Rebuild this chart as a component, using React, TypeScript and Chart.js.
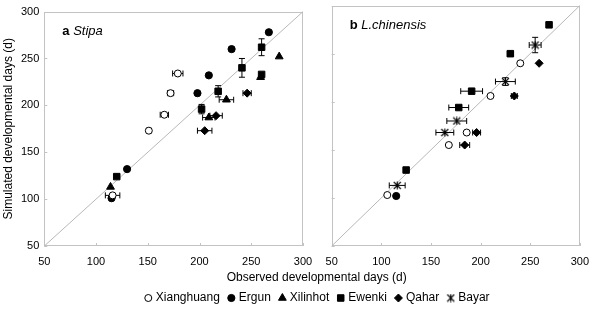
import React, { useEffect, useRef } from 'react';
import { Chart, registerables } from 'chart.js';
import { drawPoint } from 'chart.js/helpers';

Chart.register(...registerables);

// ---------- axis definition ----------
const AXIS_MIN = 50;
const AXIS_MAX = 300;
const AXIS_STEP = 50;
const X_TITLE = 'Observed developmental days (d)';
const Y_TITLE = 'Simulated developmental days (d)';
const seriesNames = ['Xianghuang', 'Ergun', 'Xilinhot', 'Ewenki', 'Qahar', 'Bayar'];

// ---------- panel a (Stipa) ----------
const xianghuangA_obs = [179, 172, 166, 151, 116];
const xianghuangA_sim = [234, 213, 190, 173, 104];
const xianghuangA_xErr = [5, 3, 4, 2, 7];
const xianghuangA_yErr = [0, 0, 0, 0, 0];

const ergunA_obs = [267, 231, 209, 198, 130, 115];
const ergunA_sim = [278, 260, 232, 213, 132, 101];
const ergunA_xErr = [0, 0, 0, 0, 0, 0];
const ergunA_yErr = [0, 2, 0, 0, 0, 0];

const xilinhotA_obs = [277, 259, 226, 209, 114];
const xilinhotA_sim = [252, 230, 206, 187, 113];
const xilinhotA_xErr = [0, 0, 7, 6, 0];
const xilinhotA_yErr = [0, 0, 0, 0, 0];

const ewenkiA_obs = [260, 241, 218, 202, 120, 260];
const ewenkiA_sim = [262, 240, 215, 196, 124, 233];
const ewenkiA_xErr = [0, 0, 0, 0, 0, 0];
const ewenkiA_yErr = [9, 10, 6, 5, 0, 0];

const qaharA_obs = [246, 216, 205];
const qaharA_sim = [213, 189, 173];
const qaharA_xErr = [4, 6, 7];
const qaharA_yErr = [0, 0, 0];

// ---------- panel b (L.chinensis) ----------
const xianghuangB_obs = [240, 210, 186, 168, 106];
const xianghuangB_sim = [240, 206, 168, 155, 103];
const xianghuangB_xErr = [0, 0, 0, 0, 0];
const xianghuangB_yErr = [0, 0, 0, 0, 0];

const ergunB_obs = [115];
const ergunB_sim = [102];
const ergunB_xErr = [0];
const ergunB_yErr = [0];

const ewenkiB_obs = [269, 230, 191, 178, 125];
const ewenkiB_sim = [280, 250, 211, 194, 129];
const ewenkiB_xErr = [0, 3, 11, 10, 0];
const ewenkiB_yErr = [0, 2, 0, 0, 0];

const qaharB_obs = [259, 234, 196, 184];
const qaharB_sim = [240, 206, 168, 155];
const qaharB_xErr = [0, 3, 4, 5];
const qaharB_yErr = [0, 0, 0, 0];

const bayarB_obs = [255, 225, 176, 164, 116];
const bayarB_sim = [259, 221, 180, 168, 113];
const bayarB_xErr = [6, 10, 10, 9, 8];
const bayarB_yErr = [8, 4, 0, 0, 0];

// ---------- styles ----------
function makeBayarMarker(): HTMLCanvasElement {
  const c = document.createElement('canvas');
  c.width = 9;
  c.height = 9;
  const g = c.getContext('2d')!;
  g.strokeStyle = '#000';
  g.lineWidth = 1.1;
  g.beginPath();
  g.moveTo(1, 1); g.lineTo(8, 8);
  g.moveTo(8, 1); g.lineTo(1, 8);
  g.moveTo(4.5, 0.5); g.lineTo(4.5, 8.5);
  g.stroke();
  return c;
}

type Style = { pointStyle: any; radius: number; fill: string };
function getStyles(): Record<string, Style> {
  return {
    Xianghuang: { pointStyle: 'circle', radius: 3.5, fill: '#ffffff' },
    Ergun: { pointStyle: 'circle', radius: 3.6, fill: '#000000' },
    Xilinhot: { pointStyle: 'triangle', radius: 4.5, fill: '#000000' },
    Ewenki: { pointStyle: 'rect', radius: 4.6, fill: '#000000' },
    Qahar: { pointStyle: 'rectRot', radius: 4, fill: '#000000' },
    Bayar: { pointStyle: makeBayarMarker(), radius: 4.5, fill: '#000000' },
  };
}

function buildDataset(name: string, obs: number[], sim: number[], xErr: number[], yErr: number[], styles: Record<string, Style>) {
  const s = styles[name];
  return {
    label: name,
    data: obs.map((v, i) => ({ x: v, y: sim[i] })),
    xErr,
    yErr,
    pointStyle: s.pointStyle,
    pointRadius: s.radius,
    pointBackgroundColor: s.fill,
    pointBorderColor: '#000000',
    pointBorderWidth: 1,
    showLine: false,
  } as any;
}

const FONT = "'Liberation Sans', Arial, Helvetica, sans-serif";

const framePlugin = {
  id: 'frame',
  beforeDatasetsDraw(chart: any) {
    const { ctx, chartArea: a } = chart;
    const xs = chart.scales.x;
    const ys = chart.scales.y;
    ctx.save();
    ctx.strokeStyle = '#c3c3c3';
    ctx.lineWidth = 1;
    ctx.strokeRect(Math.round(a.left) + 0.5, Math.round(a.top) + 0.5, Math.round(a.width) - 1, Math.round(a.height) - 1);
    ctx.beginPath();
    xs.ticks.forEach((t: any) => {
      const px = Math.round(xs.getPixelForValue(t.value)) + 0.5;
      ctx.moveTo(px, a.bottom);
      ctx.lineTo(px, a.bottom - 3);
    });
    ys.ticks.forEach((t: any) => {
      const py = Math.round(ys.getPixelForValue(t.value)) + 0.5;
      ctx.moveTo(a.left, py);
      ctx.lineTo(a.left + 3, py);
    });
    ctx.stroke();
    // 1:1 line
    ctx.strokeStyle = '#b8b8b8';
    ctx.beginPath();
    ctx.moveTo(xs.getPixelForValue(AXIS_MIN), ys.getPixelForValue(AXIS_MIN));
    ctx.lineTo(xs.getPixelForValue(AXIS_MAX), ys.getPixelForValue(AXIS_MAX));
    ctx.stroke();
    // error bars
    ctx.strokeStyle = '#000';
    ctx.lineWidth = 1;
    const cap = 3;
    chart.data.datasets.forEach((ds: any) => {
      ds.data.forEach((p: any, i: number) => {
        const px = xs.getPixelForValue(p.x);
        const py = ys.getPixelForValue(p.y);
        const xe = ds.xErr ? ds.xErr[i] : 0;
        const ye = ds.yErr ? ds.yErr[i] : 0;
        ctx.beginPath();
        if (xe > 0) {
          const l = xs.getPixelForValue(p.x - xe);
          const r = xs.getPixelForValue(p.x + xe);
          ctx.moveTo(l, py); ctx.lineTo(r, py);
          ctx.moveTo(l, py - cap); ctx.lineTo(l, py + cap);
          ctx.moveTo(r, py - cap); ctx.lineTo(r, py + cap);
        }
        if (ye > 0) {
          const t = ys.getPixelForValue(p.y + ye);
          const b = ys.getPixelForValue(p.y - ye);
          ctx.moveTo(px, t); ctx.lineTo(px, b);
          ctx.moveTo(px - cap, t); ctx.lineTo(px + cap, t);
          ctx.moveTo(px - cap, b); ctx.lineTo(px + cap, b);
        }
        ctx.stroke();
      });
    });
    ctx.restore();
  },
  afterDraw(chart: any) {
    const opts = chart.options.plugins.panelLabel;
    if (!opts) return;
    const { ctx, chartArea: a } = chart;
    ctx.save();
    ctx.fillStyle = '#000';
    ctx.textBaseline = 'middle';
    ctx.textAlign = 'left';
    const x0 = a.left + 18;
    const y0 = a.top + 20;
    ctx.font = `bold 13px ${FONT}`;
    ctx.fillText(opts.bold, x0, y0);
    const w = ctx.measureText(opts.bold + ' ').width;
    ctx.font = `italic 13px ${FONT}`;
    ctx.fillText(opts.italic, x0 + w, y0);
    ctx.restore();
  },
};

const footerPlugin = {
  id: 'footer',
  afterDraw(chart: any) {
    const opts = chart.options.plugins.footer;
    if (!opts) return;
    const { ctx } = chart;
    ctx.save();
    ctx.fillStyle = '#000';
    ctx.textBaseline = 'middle';
    ctx.font = `12px ${FONT}`;
    ctx.textAlign = 'center';
    ctx.fillText(opts.title, opts.cx, opts.titleY);
    // legend
    ctx.textAlign = 'left';
    const styles: Record<string, Style> = opts.styles;
    const markerW = 9;
    const gapMT = 3;
    const gapItem = 7;
    const widths = opts.names.map((n: string) => ctx.measureText(n).width);
    const total = widths.reduce((s: number, w: number) => s + w, 0) + opts.names.length * (markerW + gapMT) + (opts.names.length - 1) * gapItem;
    let x = opts.cx - total / 2;
    const y = opts.legendY;
    opts.names.forEach((n: string, i: number) => {
      const s = styles[n];
      ctx.fillStyle = s.fill;
      ctx.strokeStyle = '#000';
      ctx.lineWidth = 1;
      drawPoint(ctx, { pointStyle: s.pointStyle, radius: s.radius, borderWidth: 1, rotation: 0 } as any, x + markerW / 2, y);
      x += markerW + gapMT;
      ctx.fillStyle = '#000';
      ctx.fillText(n, x, y);
      x += widths[i] + gapItem;
    });
    ctx.restore();
  },
};

function axisOptions(showLabels: boolean, fixed: number, horizontal: boolean, title?: string) {
  return {
    type: 'linear',
    min: AXIS_MIN,
    max: AXIS_MAX,
    grid: { display: false, drawTicks: false },
    border: { display: false },
    ticks: {
      display: showLabels,
      stepSize: AXIS_STEP,
      color: '#000',
      font: { size: 11, family: FONT },
      padding: horizontal ? 9 : 5,
      maxRotation: 0,
    },
    title: title
      ? { display: true, text: title, color: '#000', font: { size: 12, family: FONT }, padding: { top: 1, bottom: 0 } }
      : { display: false },
    afterFit: (scale: any) => {
      if (horizontal) scale.height = fixed;
      else scale.width = fixed;
    },
  } as any;
}

export default function App() {
  const leftRef = useRef<HTMLCanvasElement>(null);
  const rightRef = useRef<HTMLCanvasElement>(null);

  useEffect(() => {
    document.body.style.margin = '0';
    const styles = getStyles();
    const left = new Chart(leftRef.current!, {
      type: 'scatter',
      data: {
        datasets: [
          buildDataset('Xianghuang', xianghuangA_obs, xianghuangA_sim, xianghuangA_xErr, xianghuangA_yErr, styles),
          buildDataset('Ergun', ergunA_obs, ergunA_sim, ergunA_xErr, ergunA_yErr, styles),
          buildDataset('Xilinhot', xilinhotA_obs, xilinhotA_sim, xilinhotA_xErr, xilinhotA_yErr, styles),
          buildDataset('Ewenki', ewenkiA_obs, ewenkiA_sim, ewenkiA_xErr, ewenkiA_yErr, styles),
          buildDataset('Qahar', qaharA_obs, qaharA_sim, qaharA_xErr, qaharA_yErr, styles),
        ],
      },
      options: {
        responsive: false,
        animation: false,
        devicePixelRatio: 1,
        events: [],
        layout: { padding: { left: 0, right: 295, top: 5, bottom: 45 } },
        scales: {
          x: axisOptions(true, 20, true),
          y: axisOptions(true, 44.3, false, Y_TITLE),
        },
        plugins: {
          legend: { display: false },
          tooltip: { enabled: false },
          panelLabel: { bold: 'a', italic: 'Stipa' },
          footer: { title: X_TITLE, cx: 316.7, titleY: 278, legendY: 298, names: seriesNames, styles },
        } as any,
      },
      plugins: [framePlugin, footerPlugin],
    } as any);

    const right = new Chart(rightRef.current!, {
      type: 'scatter',
      data: {
        datasets: [
          buildDataset('Xianghuang', xianghuangB_obs, xianghuangB_sim, xianghuangB_xErr, xianghuangB_yErr, styles),
          buildDataset('Ergun', ergunB_obs, ergunB_sim, ergunB_xErr, ergunB_yErr, styles),
          buildDataset('Ewenki', ewenkiB_obs, ewenkiB_sim, ewenkiB_xErr, ewenkiB_yErr, styles),
          buildDataset('Qahar', qaharB_obs, qaharB_sim, qaharB_xErr, qaharB_yErr, styles),
          buildDataset('Bayar', bayarB_obs, bayarB_sim, bayarB_xErr, bayarB_yErr, styles),
        ],
      },
      options: {
        responsive: false,
        animation: false,
        devicePixelRatio: 1,
        events: [],
        layout: { padding: { left: 0, right: 8.7, top: 5, bottom: 45 } },
        scales: {
          x: axisOptions(true, 20, true),
          y: axisOptions(false, 21.7, false),
        },
        plugins: {
          legend: { display: false },
          tooltip: { enabled: false },
          panelLabel: { bold: 'b', italic: 'L.chinensis' },
        } as any,
      },
      plugins: [framePlugin],
    } as any);

    return () => {
      left.destroy();
      right.destroy();
    };
  }, []);

  return (
    <div style={{ position: 'relative', width: 598, height: 311, background: '#fff' }}>
      <canvas ref={leftRef} width={598} height={311} style={{ position: 'absolute', left: 0, top: 0, display: 'block' }} />
      <canvas ref={rightRef} width={288} height={311} style={{ position: 'absolute', left: 310, top: 0, display: 'block' }} />
    </div>
  );
}
